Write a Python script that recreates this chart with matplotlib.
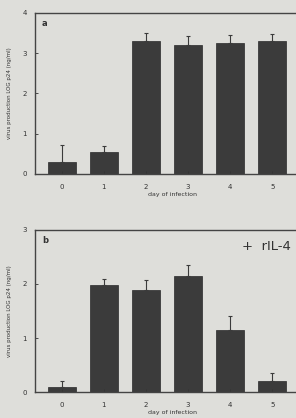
import numpy as np
import matplotlib.pyplot as plt

days = [0, 1, 2, 3, 4, 5]

# panel a
vals_a = [0.30, 0.55, 3.30, 3.20, 3.25, 3.30]
err_a = [0.42, 0.15, 0.20, 0.22, 0.20, 0.18]

# panel b (+ rIL-4)
vals_b = [0.10, 1.98, 1.88, 2.15, 1.15, 0.20]
err_b = [0.10, 0.12, 0.20, 0.20, 0.25, 0.15]

bg = "#dededa"
bar_col = "#3b3b3b"

fig = plt.figure(figsize=(2.96, 4.18), dpi=100, facecolor=bg)


def panel(rect, vals, err, ymax, letter, note=None):
    ax = fig.add_axes(rect)
    ax.set_facecolor(bg)
    ax.bar(days, vals, width=0.67, color=bar_col, edgecolor="#2a2a2a", linewidth=0.5,
           yerr=[np.zeros(len(err)), err], capsize=1.5,
           error_kw=dict(ecolor="#3b3b3b", elinewidth=0.8, capthick=0.8))
    ax.set_xlim(-0.64, 5.9)
    ax.set_ylim(0, ymax)
    ax.set_xticks(days)
    ax.set_yticks(range(ymax + 1))
    ax.tick_params(direction="in", length=2, width=0.6, labelsize=5, colors="#333333")
    ax.tick_params(axis="x", pad=7)
    ax.tick_params(axis="y", pad=6)
    for s in ax.spines.values():
        s.set_color("#444444")
        s.set_linewidth(1.0)
    ax.set_xlabel("day of infection", fontsize=4.5, labelpad=1.5, color="#333333")
    ax.set_ylabel("virus production LOG p24 (ng/ml)", fontsize=4, labelpad=7, color="#333333")
    ax.text(0.025, 0.965, letter, transform=ax.transAxes, fontsize=6, fontweight="bold",
            va="top", ha="left", color="#333333")
    if note:
        ax.text(0.93, 0.895, note, transform=ax.transAxes, fontsize=9.5,
                va="center", ha="right", color="#333333")
    return ax


panel([0.118, 0.584, 0.93, 0.385], vals_a, err_a, 4, "a")
panel([0.118, 0.062, 0.93, 0.388], vals_b, err_b, 3, "b", "+  rIL-4")

fig.savefig("out.png", dpi=100, facecolor=bg)
